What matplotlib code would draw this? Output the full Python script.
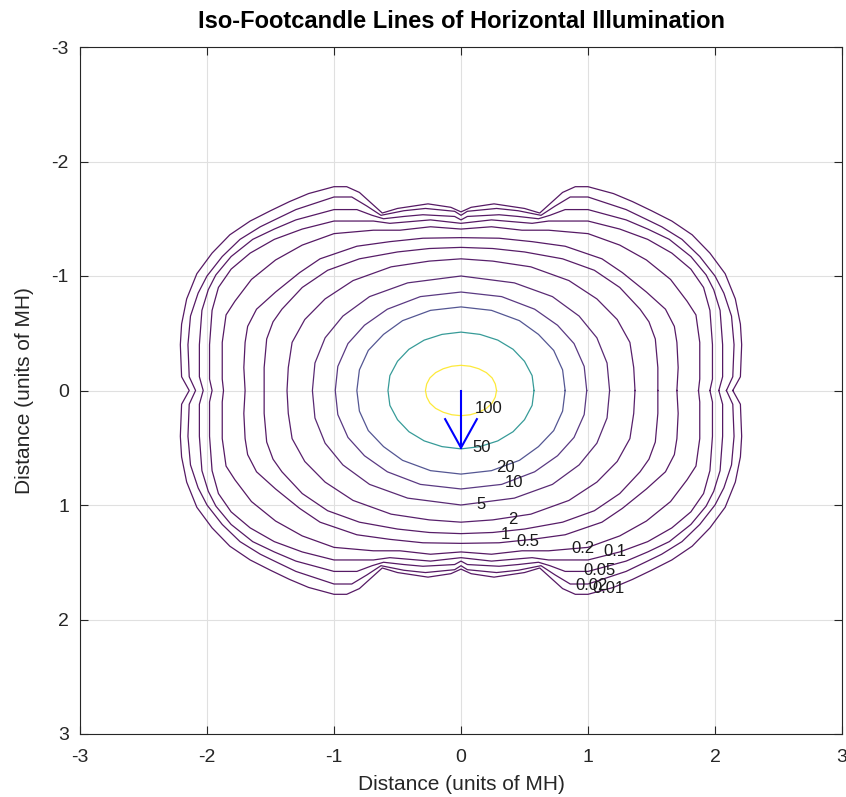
import numpy as np
import matplotlib.pyplot as plt
from matplotlib import colors

plt.rcParams['font.family'] = ['Liberation Sans', 'DejaVu Sans']
plt.rcParams['axes.unicode_minus'] = False

# ── Iso-footcandle levels ─────────────────────────────────────
levels = [100, 50, 20, 10, 5, 2, 1, 0.5, 0.2, 0.1, 0.05, 0.02, 0.01]

# One quadrant of each contour (x >= 0, y >= 0),
# running from the x axis round to the y axis.  Units of mounting height.
fc100_x = [0.28, 0.27, 0.245, 0.20, 0.14, 0.072, 0.0]
fc100_y = [0.0, 0.057, 0.11, 0.156, 0.19, 0.212, 0.22]

fc50_x = [0.575, 0.56, 0.50, 0.41, 0.29, 0.15, 0.0]
fc50_y = [0.0, 0.13, 0.255, 0.36, 0.44, 0.49, 0.51]

fc20_x = [0.82, 0.80, 0.73, 0.61, 0.46, 0.24, 0.0]
fc20_y = [0.0, 0.18, 0.35, 0.49, 0.61, 0.70, 0.73]

fc10_x = [0.99, 0.97, 0.89, 0.76, 0.58, 0.32, 0.0]
fc10_y = [0.0, 0.21, 0.41, 0.57, 0.71, 0.82, 0.86]

fc5_x = [1.17, 1.15, 1.07, 0.93, 0.72, 0.42, 0.0]
fc5_y = [0.0, 0.24, 0.46, 0.65, 0.82, 0.94, 1.0]

fc2_x = [1.37, 1.36, 1.33, 1.23, 1.07, 0.85, 0.55, 0.25, 0.0]
fc2_y = [0.0, 0.20, 0.42, 0.62, 0.80, 0.96, 1.08, 1.13, 1.15]

fc1_x = [1.55, 1.55, 1.53, 1.48, 1.41, 1.25, 1.05, 0.80, 0.50, 0.25, 0.0]
fc1_y = [0.0, 0.20, 0.45, 0.60, 0.71, 0.90, 1.05, 1.15, 1.21, 1.24, 1.25]

fc05_x = [1.70, 1.71, 1.70, 1.68, 1.61, 1.46, 1.27, 1.11, 0.82, 0.56, 0.30, 0.0]
fc05_y = [0.0, 0.20, 0.42, 0.56, 0.71, 0.86, 1.03, 1.15, 1.26, 1.30, 1.33, 1.335]

fc02_x = [1.87, 1.88, 1.88, 1.85, 1.78, 1.65, 1.46, 1.25, 1.0, 0.69, 0.48, 0.24, 0.0]
fc02_y = [0.0, 0.10, 0.42, 0.66, 0.78, 0.97, 1.14, 1.27, 1.37, 1.40, 1.40, 1.43, 1.41]

fc01_x = [1.96, 1.98, 1.98, 1.96, 1.91, 1.81, 1.66, 1.47, 1.25, 1.0, 0.69, 0.56, 0.24, 0.0]
fc01_y = [0.0, 0.10, 0.40, 0.70, 0.90, 1.06, 1.20, 1.32, 1.41, 1.48, 1.48, 1.46, 1.49, 1.46]

fc005_x = [2.03, 2.06, 2.06, 2.04, 1.99, 1.93, 1.81, 1.64, 1.47, 1.30, 1.0, 0.82,
           0.70, 0.61, 0.45, 0.30, 0.05, 0.0]
fc005_y = [0.0, 0.12, 0.40, 0.70, 0.88, 1.01, 1.17, 1.32, 1.41, 1.49, 1.58, 1.58,
           1.53, 1.50, 1.52, 1.535, 1.52, 1.49]

fc002_x = [2.09, 2.14, 2.15, 2.13, 2.07, 2.00, 1.88, 1.74, 1.58, 1.45, 1.30, 1.0,
           0.86, 0.74, 0.63, 0.45, 0.28, 0.05, 0.0]
fc002_y = [0.0, 0.12, 0.40, 0.65, 0.85, 1.0, 1.17, 1.32, 1.43, 1.50, 1.58, 1.69,
           1.69, 1.61, 1.53, 1.57, 1.59, 1.565, 1.53]

fc001_x = [2.14, 2.20, 2.21, 2.20, 2.16, 2.08, 1.96, 1.82, 1.66, 1.50, 1.35, 1.20,
           1.0, 0.90, 0.80, 0.69, 0.62, 0.50, 0.26, 0.08, 0.0]
fc001_y = [0.0, 0.12, 0.40, 0.58, 0.80, 1.02, 1.20, 1.36, 1.48, 1.57, 1.65, 1.72,
           1.78, 1.78, 1.73, 1.62, 1.55, 1.59, 1.63, 1.60, 1.56]

quadrants = [(fc100_x, fc100_y), (fc50_x, fc50_y), (fc20_x, fc20_y),
             (fc10_x, fc10_y), (fc5_x, fc5_y), (fc2_x, fc2_y), (fc1_x, fc1_y),
             (fc05_x, fc05_y), (fc02_x, fc02_y), (fc01_x, fc01_y),
             (fc005_x, fc005_y), (fc002_x, fc002_y), (fc001_x, fc001_y)]

# contour labels (placed where the original put them)
label_text = ['100', '50', '20', '10', '5', '2', '1', '0.5',
              '0.2', '0.1', '0.05', '0.02', '0.01']
label_x = [0.22, 0.16, 0.35, 0.42, 0.16, 0.41, 0.35, 0.53, 0.96, 1.21, 1.09, 1.03, 1.16]
label_y = [0.16, 0.495, 0.675, 0.80, 0.995, 1.125, 1.255, 1.315, 1.38, 1.41, 1.57, 1.70, 1.73]

# aiming arrow of the luminaire
aim_x = [0.0, 0.0]
aim_y = [0.0, 0.5]
head_x = [-0.125, 0.0, 0.125]
head_y = [0.25, 0.5, 0.25]


def full_loop(qx, qy):
    """Mirror one quadrant into a closed outline (shape is symmetric)."""
    qx = np.asarray(qx, dtype=float)
    qy = np.asarray(qy, dtype=float)
    x = np.concatenate([qx, -qx[::-1], -qx, qx[::-1]])
    y = np.concatenate([qy, qy[::-1], -qy, -qy[::-1]])
    return x, y


fig = plt.figure(figsize=(8.46, 7.97), dpi=100)
ax = fig.add_axes([80 / 846, 63 / 797, 762 / 846, 687 / 797])

cmap = plt.get_cmap('viridis')
norm = colors.Normalize(vmin=min(levels), vmax=max(levels))

for lev, (qx, qy) in zip(levels, quadrants):
    x, y = full_loop(qx, qy)
    ax.plot(x, y, color=cmap(norm(lev)), lw=0.9, alpha=0.9, zorder=3)

for txt, tx, ty in zip(label_text, label_x, label_y):
    ax.text(tx, ty, txt, fontsize=12, ha='center', va='center',
            color='#1a1a1a', zorder=4)

ax.plot(aim_x, aim_y, color='blue', lw=1.5, zorder=5)
ax.plot(head_x, head_y, color='blue', lw=1.5, zorder=5)

ax.set_xlim(-3, 3)
ax.set_ylim(3, -3)
ax.set_xticks(range(-3, 4))
ax.set_yticks(range(-3, 4))
ax.grid(True, color='#e0e0e0', lw=0.8, zorder=0)
ax.tick_params(direction='in', length=6, width=0.8, colors='#262626',
               labelsize=14, top=True, right=True)
ax.tick_params(axis='x', pad=11)
ax.tick_params(axis='y', pad=8)
for sp in ax.spines.values():
    sp.set_color('#262626')
    sp.set_linewidth(0.8)

fig.text(461 / 846, 1 - 21 / 797, 'Iso-Footcandle Lines of Horizontal Illumination',
         ha='center', va='center', fontsize=17, fontweight='bold')
fig.text(461 / 846, 1 - 784 / 797, 'Distance (units of MH)',
         ha='center', va='center', fontsize=15, color='#262626')
fig.text(24 / 846, 1 - 391 / 797, 'Distance (units of MH)', rotation=90,
         ha='center', va='center', fontsize=15, color='#262626')

fig.savefig('out.png', dpi=100)
